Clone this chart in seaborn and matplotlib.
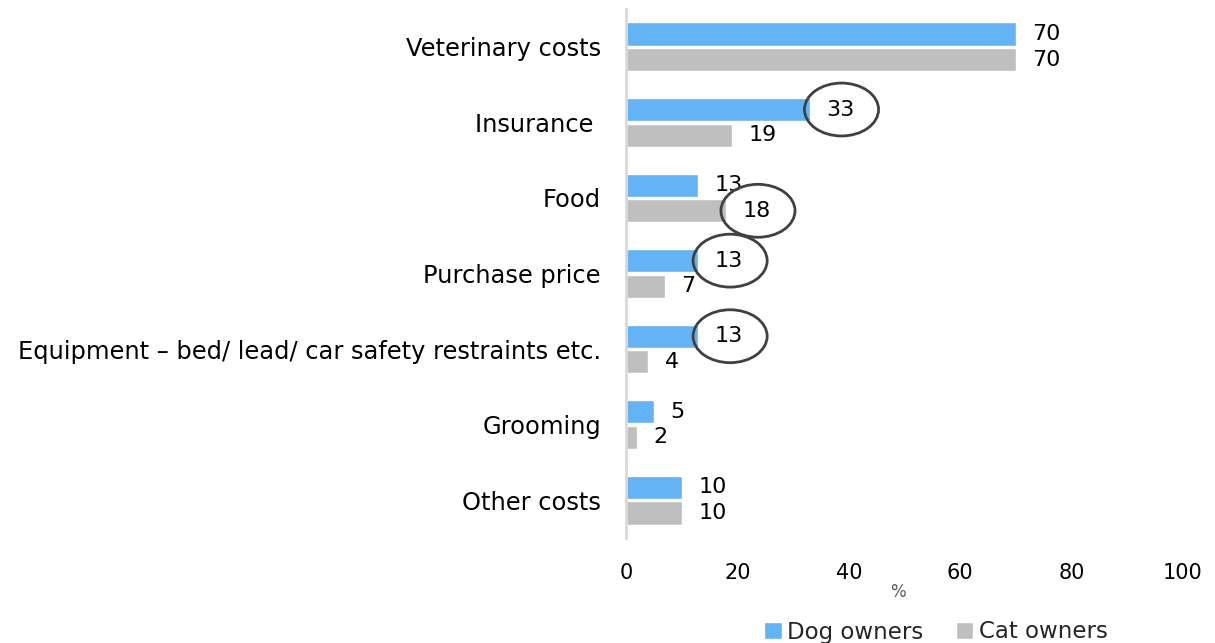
import matplotlib
matplotlib.use("Agg")
import matplotlib.pyplot as plt
from matplotlib.patches import Ellipse
import seaborn as sns
import pandas as pd

categories = ["Veterinary costs", "Insurance ", "Food", "Purchase price",
              "Equipment \u2013 bed/ lead/ car safety restraints etc.",
              "Grooming", "Other costs"]
dog_owners = [70, 33, 13, 13, 13, 5, 10]
cat_owners = [70, 19, 18, 7, 4, 2, 10]
series_names = ["Dog owners", "Cat owners"]
# values circled in the original slide
highlighted = [("Insurance ", "Dog owners"), ("Food", "Cat owners"),
               ("Purchase price", "Dog owners"),
               ("Equipment \u2013 bed/ lead/ car safety restraints etc.", "Dog owners")]
x_ticks = [0, 20, 40, 60, 80, 100]

colors = {"Dog owners": "#63b3f5", "Cat owners": "#bfbfbf"}

df = pd.DataFrame({
    "category": categories * 2,
    "owner": [series_names[0]] * len(categories) + [series_names[1]] * len(categories),
    "value": dog_owners + cat_owners,
})

sns.set_style("white")
plt.rcParams["font.family"] = ["DejaVu Sans"]

fig = plt.figure(figsize=(12.15, 6.43), dpi=100)
ax = fig.add_axes([0.5152, 0.1633, 0.4584, 0.8227])

sns.barplot(data=df, y="category", x="value", hue="owner", order=categories,
            hue_order=series_names, palette=colors, orient="h",
            width=0.68, gap=0.1, saturation=1, ax=ax)

handles, labels = ax.get_legend_handles_labels()
ax.get_legend().remove()

ax.set_xlim(0, 100)
ax.set_ylim(len(categories) - 0.5, -0.5)
ax.set_xticks(x_ticks)
ax.tick_params(axis="x", length=0, pad=18, labelsize=15, colors="black")
ax.tick_params(axis="y", length=0, pad=18, labelsize=17.4, colors="black")
ax.set_ylabel("")
ax.set_xlabel("%", fontsize=12, color="#595959")
ax.xaxis.set_label_coords(0.488, -0.085)

for side in ["top", "right", "bottom"]:
    ax.spines[side].set_visible(False)
ax.spines["left"].set_color("#d9d9d9")
ax.spines["left"].set_linewidth(2)

# value labels + ellipses
for container, name in zip(ax.containers, series_names):
    for bar, cat in zip(container, categories):
        w = bar.get_width()
        yc = bar.get_y() + bar.get_height() / 2
        ax.annotate(f"{w:.0f}", (w, yc), xytext=(12, 0), textcoords="offset points",
                    ha="left", va="center", fontsize=16, color="black")
        if (cat, name) in highlighted:
            ax.add_patch(Ellipse((w + 5.7, yc), 13.3, 0.7, fill=False,
                                 edgecolor="#404040", linewidth=2, zorder=5))

fig.legend(handles, labels, loc="center", bbox_to_anchor=(936 / 1215, 1 - 632 / 643),
           ncol=2, frameon=False, fontsize=16.5, handlelength=0.75, handleheight=0.75,
           handletextpad=0.25, columnspacing=1.4)

fig.savefig("out.png", dpi=100)
